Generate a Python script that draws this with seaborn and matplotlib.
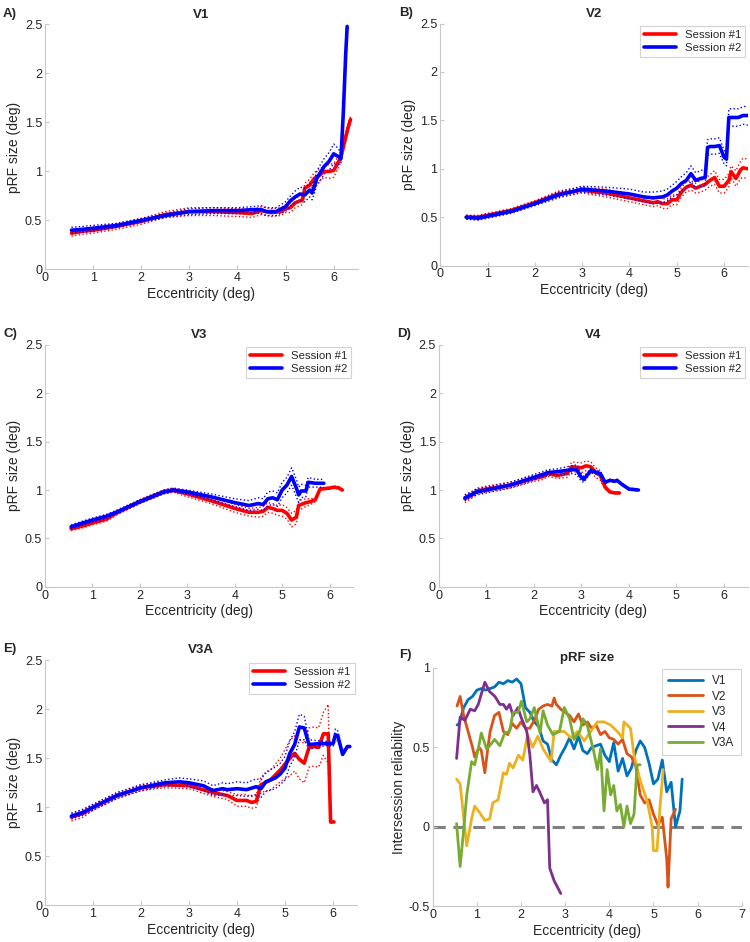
import numpy as np
import pandas as pd
import matplotlib
matplotlib.use("Agg")
import matplotlib.pyplot as plt
from matplotlib.ticker import FuncFormatter
import seaborn as sns

# ---- V1 ----
v1_x1 = [0.55, 0.8, 1.0, 1.5, 2.0, 2.5, 3.0, 3.5, 4.0, 4.3, 4.5, 4.7, 4.9, 5.0, 5.1, 5.2, 5.3, 5.35, 5.4,
         5.5, 5.6, 5.7, 5.8, 5.9, 6.0, 6.1, 6.15, 6.2, 6.3, 6.35]
v1_y1 = [0.37, 0.39, 0.40, 0.44, 0.49, 0.56, 0.59, 0.59, 0.58, 0.57, 0.60, 0.58, 0.59, 0.62, 0.63, 0.68, 0.70,
         0.71, 0.83, 0.86, 0.93, 0.96, 1.00, 1.00, 1.01, 1.10, 1.15, 1.25, 1.45, 1.53]
v1_e1 = [0.03, 0.03, 0.03, 0.03, 0.03, 0.03, 0.04, 0.04, 0.04, 0.04, 0.04, 0.04, 0.04, 0.04, 0.05, 0.05, 0.05,
         0.05, 0.05, 0.06, 0.06, 0.06, 0.06, 0.07, 0.07, 0.06, 0.05, 0.05, 0.04, 0.03]
v1_x2 = [0.55, 0.8, 1.0, 1.5, 2.0, 2.5, 3.0, 3.5, 4.0, 4.3, 4.5, 4.6, 4.8, 5.0, 5.1, 5.2, 5.3, 5.4, 5.5, 5.55,
         5.6, 5.65, 5.7, 5.8, 5.9, 6.0, 6.1, 6.15, 6.2, 6.25, 6.28]
v1_y2 = [0.40, 0.41, 0.42, 0.45, 0.50, 0.55, 0.59, 0.60, 0.60, 0.61, 0.61, 0.59, 0.59, 0.64, 0.70, 0.74, 0.77,
         0.76, 0.81, 0.78, 0.85, 0.93, 0.97, 1.05, 1.10, 1.18, 1.15, 1.13, 1.60, 2.20, 2.48]
v1_e2 = [0.03, 0.03, 0.03, 0.02, 0.02, 0.02, 0.03, 0.03, 0.03, 0.03, 0.04, 0.04, 0.04, 0.05, 0.05, 0.06, 0.07,
         0.07, 0.07, 0.07, 0.07, 0.07, 0.08, 0.08, 0.09, 0.10, 0.08, 0.05, 0.04, 0.03, 0.02]

# ---- V2 ----
v2_x1 = [0.55, 0.8, 1.0, 1.5, 2.0, 2.5, 3.0, 3.5, 4.0, 4.3, 4.5, 4.6, 4.7, 4.8, 4.9, 5.0, 5.1, 5.2, 5.3, 5.4,
         5.5, 5.6, 5.7, 5.8, 5.9, 6.0, 6.1, 6.15, 6.25, 6.35, 6.4, 6.5]
v2_y1 = [0.50, 0.50, 0.52, 0.57, 0.65, 0.74, 0.78, 0.75, 0.70, 0.67, 0.65, 0.66, 0.64, 0.64, 0.68, 0.68, 0.76,
         0.81, 0.83, 0.80, 0.82, 0.84, 0.88, 0.91, 0.82, 0.82, 0.88, 0.97, 0.90, 0.99, 1.01, 1.00]
v2_e1 = [0.02, 0.02, 0.02, 0.02, 0.02, 0.03, 0.03, 0.04, 0.04, 0.04, 0.04, 0.04, 0.05, 0.05, 0.05, 0.05, 0.05,
         0.05, 0.05, 0.05, 0.06, 0.06, 0.06, 0.07, 0.07, 0.07, 0.07, 0.06, 0.08, 0.09, 0.10, 0.10]
v2_x2 = [0.55, 0.8, 1.0, 1.5, 2.0, 2.5, 3.0, 3.5, 4.0, 4.3, 4.5, 4.7, 4.8, 4.9, 5.0, 5.1, 5.2, 5.3, 5.4, 5.5,
         5.6, 5.65, 5.7, 5.8, 5.9, 6.0, 6.05, 6.1, 6.2, 6.3, 6.4, 6.5]
v2_y2 = [0.50, 0.49, 0.51, 0.56, 0.64, 0.73, 0.79, 0.77, 0.74, 0.71, 0.70, 0.71, 0.73, 0.77, 0.80, 0.85, 0.88,
         0.95, 0.88, 0.90, 0.91, 1.22, 1.23, 1.23, 1.24, 1.12, 1.10, 1.53, 1.53, 1.53, 1.55, 1.55]
v2_e2 = [0.02, 0.02, 0.02, 0.02, 0.02, 0.03, 0.03, 0.04, 0.05, 0.05, 0.06, 0.06, 0.06, 0.06, 0.07, 0.07, 0.08,
         0.08, 0.08, 0.08, 0.09, 0.08, 0.08, 0.08, 0.08, 0.07, 0.07, 0.09, 0.09, 0.09, 0.09, 0.10]

# ---- V3 ----
v3_x1 = [0.55, 0.8, 1.0, 1.3, 1.5, 2.0, 2.5, 2.7, 3.0, 3.5, 4.0, 4.3, 4.5, 4.6, 4.7, 4.8, 4.9, 5.0, 5.1, 5.2,
         5.3, 5.35, 5.5, 5.6, 5.7, 5.8, 6.0, 6.1, 6.2, 6.27]
v3_y1 = [0.60, 0.63, 0.66, 0.70, 0.76, 0.88, 0.98, 1.00, 0.96, 0.89, 0.81, 0.77, 0.77, 0.78, 0.82, 0.81, 0.79,
         0.79, 0.76, 0.69, 0.72, 0.84, 0.87, 0.88, 0.90, 1.01, 1.02, 1.03, 1.02, 1.00]
v3_e1 = [0.02, 0.02, 0.02, 0.02, 0.02, 0.02, 0.02, 0.02, 0.03, 0.03, 0.04, 0.04, 0.05, 0.05, 0.05, 0.05, 0.05,
         0.06, 0.06, 0.07, 0.07, 0.05, 0.04, 0.03, 0.02, 0.01, 0.01, 0.01, 0.01, 0.01]
v3_x2 = [0.55, 0.8, 1.0, 1.3, 1.5, 2.0, 2.5, 2.7, 3.0, 3.5, 4.0, 4.3, 4.5, 4.6, 4.7, 4.8, 4.9, 5.0, 5.1, 5.2,
         5.3, 5.35, 5.4, 5.5, 5.55, 5.7, 5.88]
v3_y2 = [0.62, 0.66, 0.69, 0.73, 0.77, 0.88, 0.98, 1.00, 0.98, 0.93, 0.87, 0.84, 0.86, 0.85, 0.91, 0.92, 0.90,
         1.00, 1.05, 1.14, 1.02, 0.95, 0.99, 0.99, 1.08, 1.07, 1.07]
v3_e2 = [0.02, 0.02, 0.02, 0.02, 0.02, 0.02, 0.02, 0.02, 0.02, 0.03, 0.04, 0.05, 0.06, 0.06, 0.07, 0.07, 0.07,
         0.08, 0.08, 0.09, 0.09, 0.08, 0.07, 0.06, 0.05, 0.04, 0.04]

# ---- V4 ----
v4_x1 = [0.55, 0.7, 0.8, 1.0, 1.5, 2.0, 2.2, 2.3, 2.5, 2.7, 2.8, 3.0, 3.1, 3.2, 3.3, 3.4, 3.5, 3.6, 3.7, 3.8]
v4_y1 = [0.91, 0.95, 0.99, 1.01, 1.05, 1.12, 1.14, 1.17, 1.15, 1.17, 1.24, 1.23, 1.25, 1.24, 1.18, 1.15, 1.03,
         0.98, 0.97, 0.97]
v4_e1 = [0.04, 0.03, 0.03, 0.03, 0.03, 0.03, 0.03, 0.03, 0.03, 0.04, 0.05, 0.05, 0.05, 0.05, 0.05, 0.05, 0.02,
         0.01, 0.01, 0.01]
v4_x2 = [0.55, 0.8, 1.0, 1.5, 2.0, 2.3, 2.5, 2.8, 2.9, 3.0, 3.05, 3.2, 3.4, 3.5, 3.6, 3.7, 3.75, 3.85, 4.0, 4.2]
v4_y2 = [0.92, 0.98, 1.00, 1.05, 1.13, 1.18, 1.19, 1.21, 1.21, 1.13, 1.11, 1.20, 1.17, 1.08, 1.10, 1.09, 1.10,
         1.06, 1.01, 1.00]
v4_e2 = [0.03, 0.03, 0.03, 0.03, 0.03, 0.03, 0.03, 0.04, 0.05, 0.04, 0.03, 0.02, 0.02, 0.01, 0.01, 0.01, 0.01,
         0.01, 0.01, 0.01]

# ---- V3A ----
v3a_x1 = [0.55, 0.8, 1.0, 1.5, 2.0, 2.5, 3.0, 3.5, 3.8, 4.0, 4.2, 4.3, 4.4, 4.5, 4.7, 4.9, 5.0, 5.1, 5.2, 5.3,
          5.4, 5.5, 5.6, 5.7, 5.8, 5.9, 5.95, 6.02]
v3a_y1 = [0.90, 0.94, 1.00, 1.12, 1.20, 1.23, 1.22, 1.15, 1.12, 1.07, 1.07, 1.05, 1.06, 1.23, 1.28, 1.38, 1.44,
          1.50, 1.55, 1.49, 1.45, 1.61, 1.62, 1.61, 1.75, 1.75, 0.85, 0.85]
v3a_e1 = [0.04, 0.04, 0.03, 0.03, 0.03, 0.03, 0.03, 0.04, 0.04, 0.06, 0.06, 0.06, 0.06, 0.08, 0.10, 0.12, 0.15,
          0.18, 0.18, 0.20, 0.20, 0.20, 0.20, 0.20, 0.22, 0.30, 0.01, 0.01]
v3a_x2 = [0.55, 0.8, 1.0, 1.5, 2.0, 2.5, 2.8, 3.0, 3.3, 3.5, 3.7, 3.8, 4.0, 4.2, 4.4, 4.5, 4.6, 4.8, 4.9, 5.0,
          5.1, 5.2, 5.3, 5.4, 5.5, 5.7, 5.9, 6.0, 6.05, 6.1, 6.2, 6.3, 6.35]
v3a_y2 = [0.91, 0.95, 1.00, 1.12, 1.20, 1.25, 1.26, 1.25, 1.22, 1.17, 1.19, 1.18, 1.19, 1.18, 1.21, 1.19, 1.26,
          1.30, 1.34, 1.40, 1.55, 1.64, 1.82, 1.81, 1.64, 1.65, 1.65, 1.65, 1.74, 1.73, 1.54, 1.62, 1.62]
v3a_e2 = [0.03, 0.03, 0.03, 0.03, 0.03, 0.03, 0.04, 0.04, 0.05, 0.05, 0.06, 0.06, 0.07, 0.07, 0.08, 0.09, 0.10,
          0.11, 0.11, 0.12, 0.13, 0.13, 0.13, 0.12, 0.05, 0.03, 0.02, 0.03, 0.06, 0.05, 0.02, 0.01, 0.01]

# ---- F: intersession reliability ----
rel_v1_x = [0.55, 0.6, 0.7, 0.8, 0.9, 1.0, 1.1, 1.2, 1.3, 1.4, 1.5, 1.6, 1.7, 1.8, 1.9, 2.0, 2.1, 2.2, 2.3, 2.4,
            2.5, 2.6, 2.7, 2.8, 2.9, 3.0, 3.1, 3.2, 3.3, 3.4, 3.5, 3.6, 3.7, 3.8, 3.9, 4.0, 4.1, 4.2, 4.3, 4.4,
            4.5, 4.6, 4.7, 4.8, 4.9, 5.0, 5.1, 5.2, 5.3, 5.4, 5.5, 5.6, 5.65]
rel_v1_y = [0.64, 0.65, 0.75, 0.80, 0.82, 0.86, 0.87, 0.86, 0.87, 0.88, 0.91, 0.90, 0.92, 0.91, 0.93, 0.90, 0.75,
            0.72, 0.66, 0.63, 0.54, 0.52, 0.42, 0.39, 0.45, 0.50, 0.56, 0.49, 0.57, 0.48, 0.46, 0.50, 0.51, 0.52,
            0.45, 0.41, 0.53, 0.35, 0.43, 0.32, 0.37, 0.48, 0.54, 0.50, 0.40, 0.27, 0.30, 0.42, 0.22, 0.28, 0.00,
            0.10, 0.30]
rel_v2_x = [0.55, 0.62, 0.7, 0.8, 0.9, 0.95, 1.05, 1.1, 1.18, 1.25, 1.3, 1.4, 1.5, 1.6, 1.7, 1.8, 1.9, 2.0, 2.1,
            2.2, 2.3, 2.4, 2.5, 2.6, 2.7, 2.75, 2.8, 2.9, 3.0, 3.1, 3.2, 3.3, 3.4, 3.5, 3.6, 3.7, 3.8, 3.9, 4.0,
            4.1, 4.2, 4.3, 4.4, 4.5, 4.6, 4.7, 4.8, 4.9, 5.0, 5.1, 5.2, 5.3, 5.33, 5.4, 5.5]
rel_v2_y = [0.76, 0.82, 0.70, 0.60, 0.50, 0.44, 0.50, 0.48, 0.34, 0.50, 0.60, 0.70, 0.72, 0.60, 0.58, 0.65, 0.62,
            0.66, 0.62, 0.62, 0.67, 0.74, 0.76, 0.77, 0.76, 0.81, 0.77, 0.74, 0.72, 0.70, 0.66, 0.71, 0.64, 0.66,
            0.62, 0.64, 0.58, 0.60, 0.56, 0.55, 0.52, 0.55, 0.46, 0.44, 0.38, 0.20, 0.15, 0.17, 0.08, 0.01, 0.06,
            -0.20, -0.38, 0.05, 0.11]
rel_v3_x = [0.54, 0.62, 0.77, 0.88, 0.95, 1.06, 1.18, 1.29, 1.36, 1.48, 1.6, 1.67, 1.74, 1.82, 1.94, 2.04, 2.15,
            2.26, 2.38, 2.5, 2.68, 2.75, 2.98, 3.13, 3.28, 3.43, 3.58, 3.73, 3.88, 4.03, 4.18, 4.3, 4.33, 4.48,
            4.56, 4.7, 4.86, 4.97, 5.0, 5.08, 5.15, 5.22]
rel_v3_y = [0.30, 0.27, -0.12, 0.05, 0.13, 0.09, 0.04, 0.05, 0.15, 0.17, 0.34, 0.33, 0.40, 0.37, 0.45, 0.42, 0.58,
            0.50, 0.57, 0.49, 0.41, 0.60, 0.60, 0.56, 0.60, 0.54, 0.60, 0.66, 0.66, 0.64, 0.60, 0.56, 0.66, 0.62,
            0.45, 0.29, 0.16, 0.00, -0.15, -0.15, 0.13, 0.36]
rel_v4_x = [0.54, 0.62, 0.73, 0.85, 0.95, 1.03, 1.18, 1.29, 1.41, 1.52, 1.6, 1.67, 1.74, 1.82, 1.93, 2.0, 2.13,
            2.2, 2.27, 2.35, 2.42, 2.53, 2.6, 2.65, 2.75, 2.9]
rel_v4_y = [0.43, 0.69, 0.67, 0.74, 0.73, 0.77, 0.91, 0.85, 0.82, 0.77, 0.77, 0.74, 0.77, 0.70, 0.75, 0.69, 0.60,
            0.45, 0.22, 0.26, 0.22, 0.15, 0.17, -0.26, -0.34, -0.42]
rel_v3a_x = [0.54, 0.62, 0.69, 0.77, 0.88, 0.95, 1.03, 1.1, 1.22, 1.29, 1.4, 1.52, 1.63, 1.74, 1.82, 1.93, 2.01,
             2.13, 2.2, 2.3, 2.43, 2.5, 2.6, 2.72, 2.87, 2.98, 3.1, 3.2, 3.33, 3.4, 3.5, 3.65, 3.73, 3.8, 3.88,
             3.95, 4.03, 4.1, 4.17, 4.25, 4.33, 4.4, 4.48, 4.56, 4.63, 4.7]
rel_v3a_y = [0.02, -0.25, -0.05, 0.20, 0.41, 0.39, 0.49, 0.59, 0.49, 0.51, 0.55, 0.51, 0.59, 0.60, 0.72, 0.72,
             0.79, 0.66, 0.68, 0.75, 0.59, 0.73, 0.64, 0.58, 0.60, 0.75, 0.68, 0.55, 0.60, 0.68, 0.64, 0.47, 0.36,
             0.49, 0.10, 0.36, 0.20, 0.26, 0.10, 0.14, 0.00, 0.13, 0.02, 0.08, 0.39, 0.39]

area_names = ["V1", "V2", "V3", "V4", "V3A"]
area_colors = ["#0072BD", "#D95319", "#EDB120", "#7E2F8E", "#77AC30"]

sns.set_style("white")
plt.rcParams["font.family"] = ["Liberation Sans", "DejaVu Sans"]

fig = plt.figure(figsize=(7.5, 9.42), dpi=100)
fmt = FuncFormatter(lambda v, p: "%g" % v)


def style_axes(ax, xmax, ylim, yticks):
    ax.set_xlim(0, xmax)
    ax.set_ylim(*ylim)
    ax.set_xticks(range(0, int(xmax) + 1))
    ax.set_yticks(yticks)
    ax.xaxis.set_major_formatter(fmt)
    ax.yaxis.set_major_formatter(fmt)
    for s in ["top", "right"]:
        ax.spines[s].set_visible(False)
    for s in ["left", "bottom"]:
        ax.spines[s].set_color("#c8c8c8")
        ax.spines[s].set_linewidth(0.8)
    ax.tick_params(direction="in", length=3, color="#c8c8c8", labelsize=9, labelcolor="#262626",
                   left=True, bottom=True, pad=2)
    ax.set_xlabel("Eccentricity (deg)", fontsize=10, color="#262626", labelpad=2)


def session_panel(rect, letter, title, s1, s2, legend):
    ax = fig.add_axes(rect)
    for (x, y, e), col, lab in zip([s1, s2], ["#ff0000", "#0000ff"], ["Session #1", "Session #2"]):
        x = np.array(x)
        y = np.array(y)
        e = np.array(e)
        df = pd.DataFrame({"x": x, "y": y, "lo": y - e, "hi": y + e})
        sns.lineplot(data=df, x="x", y="lo", ax=ax, color=col, lw=1.0, linestyle=":")
        sns.lineplot(data=df, x="x", y="hi", ax=ax, color=col, lw=1.0, linestyle=":")
        sns.lineplot(data=df, x="x", y="y", ax=ax, color=col, lw=2.6, label=lab)
    style_axes(ax, 6.5, (0, 2.5), [0, 0.5, 1, 1.5, 2, 2.5])
    ax.set_ylabel("pRF size (deg)", fontsize=10, color="#262626", labelpad=3)
    ax.set_title(title, fontsize=9.5, fontweight="bold", pad=5)
    ax.text(-0.135, 1.02, letter, transform=ax.transAxes, fontsize=9.5, fontweight="bold",
            ha="left", va="bottom")
    if legend:
        leg = ax.legend(loc="upper right", fontsize=8.2, frameon=True, fancybox=False,
                        handlelength=2.8, borderpad=0.35, labelspacing=0.3, borderaxespad=0.2)
        leg.get_frame().set_edgecolor("#c8c8c8")
        leg.get_frame().set_linewidth(0.8)
    else:
        ax.get_legend().remove()
    return ax


session_panel([0.060, 0.714, 0.417, 0.260], "A)", "V1",
              (v1_x1, v1_y1, v1_e1), (v1_x2, v1_y2, v1_e2), False)
session_panel([0.587, 0.718, 0.410, 0.257], "B)", "V2",
              (v2_x1, v2_y1, v2_e1), (v2_x2, v2_y2, v2_e2), True)
session_panel([0.060, 0.377, 0.411, 0.257], "C)", "V3",
              (v3_x1, v3_y1, v3_e1), (v3_x2, v3_y2, v3_e2), True)
session_panel([0.585, 0.377, 0.412, 0.257], "D)", "V4",
              (v4_x1, v4_y1, v4_e1), (v4_x2, v4_y2, v4_e2), True)
session_panel([0.060, 0.039, 0.416, 0.260], "E)", "V3A",
              (v3a_x1, v3a_y1, v3a_e1), (v3a_x2, v3a_y2, v3a_e2), True)

# ---- F ----
axf = fig.add_axes([0.577, 0.038, 0.412, 0.253])
rel_x = [rel_v1_x, rel_v2_x, rel_v3_x, rel_v4_x, rel_v3a_x]
rel_y = [rel_v1_y, rel_v2_y, rel_v3_y, rel_v4_y, rel_v3a_y]
for xs, ys, name, col in zip(rel_x, rel_y, area_names, area_colors):
    sns.lineplot(x=xs, y=ys, ax=axf, color=col, lw=2.0, label=name)
axf.axhline(0, color="#808080", lw=2.2, ls=(0, (4, 2.5)), zorder=0)
style_axes(axf, 7, (-0.5, 1), [-0.5, 0, 0.5, 1])
axf.set_ylabel("Intersession reliability", fontsize=10, color="#262626", labelpad=2)
axf.set_title("pRF size", fontsize=9.5, fontweight="bold", pad=5)
axf.text(-0.11, 1.03, "F)", transform=axf.transAxes, fontsize=9.5, fontweight="bold",
         ha="left", va="bottom")
leg = axf.legend(loc="upper right", fontsize=8.5, frameon=True, fancybox=False, handlelength=3.0,
                 borderpad=0.5, labelspacing=0.3, borderaxespad=0.1)
leg.get_frame().set_edgecolor("#c8c8c8")
leg.get_frame().set_linewidth(0.8)

fig.savefig("out.png", dpi=100)
